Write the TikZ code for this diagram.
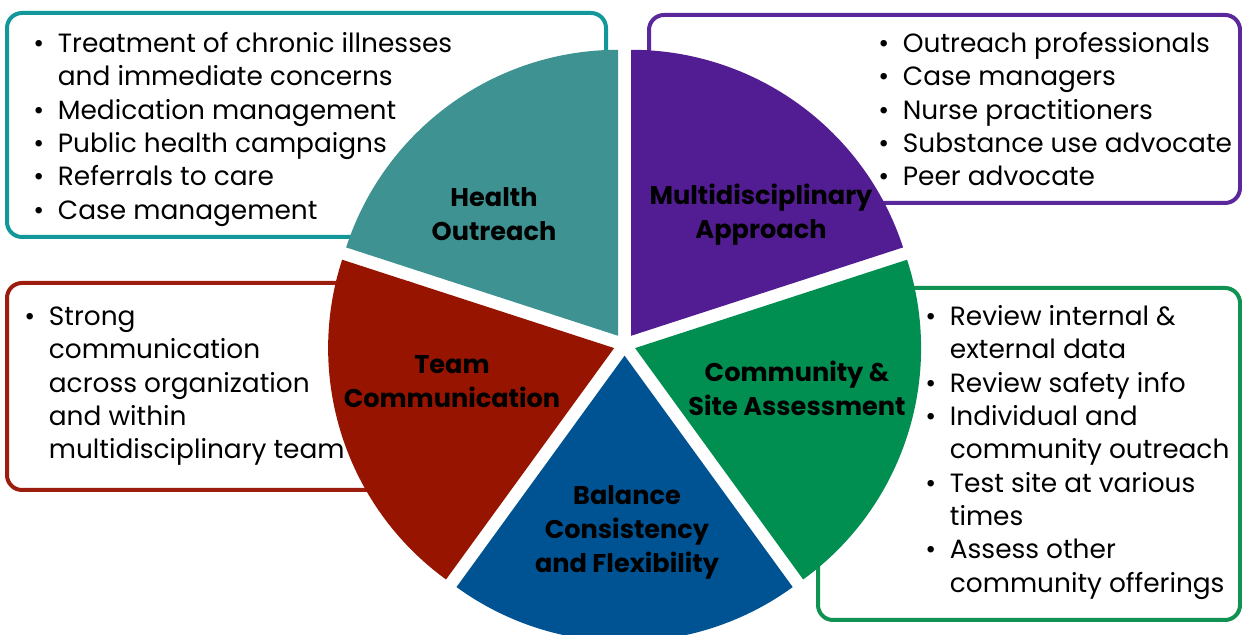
\documentclass[tikz,border=0pt]{standalone}
\usepackage{fontspec}
\setmainfont{Poppins}
\usetikzlibrary{calc}
\usepackage{xcolor}

\definecolor{healthfill}{RGB}{62,146,146}
\definecolor{healthline}{RGB}{18,152,154}
\definecolor{multifill}{RGB}{82,28,146}
\definecolor{multiline}{RGB}{90,40,155}
\definecolor{commfill}{RGB}{0,143,80}
\definecolor{commline}{RGB}{16,146,82}
\definecolor{teamfill}{RGB}{150,20,0}
\definecolor{teamline}{RGB}{156,28,14}
\definecolor{balancefill}{RGB}{0,83,147}

\begin{document}
\begin{tikzpicture}[x=0.5pt, y=0.5pt,
                box/.style = {line width=2pt, rounded corners=7.5pt, fill=white},
                slicelabel/.style = {font=\fontsize{12.8}{17}\selectfont\bfseries, align=center, inner sep=0pt},
                items/.style = {font=\fontsize{13.2}{16.65}\selectfont, anchor=north west, inner sep=0pt}
                ]
                \useasboundingbox (0,0) rectangle (1242,635);
                \clip (0,0) rectangle (1242,635);

                % boxes behind the pie
                \draw[box, draw=healthline] (7,398) rectangle (606,622);
                \draw[box, draw=multiline] (649,432) rectangle (1240,620);
                \draw[box, draw=teamline] (7,145) rectangle (420,352);
                \draw[box, draw=commline] (818,15) rectangle (1240,347);

                % exploded pie
                \coordinate (c) at (624.6,290.3);
                \fill[healthfill] ($(c)+(126:11)$) -- ++(90:286) arc[start angle=90, end angle=162, radius=286] -- cycle;
                \fill[multifill] ($(c)+(54:11)$) -- ++(18:286) arc[start angle=18, end angle=90, radius=286] -- cycle;
                \fill[commfill] ($(c)+(-18:11)$) -- ++(-54:286) arc[start angle=-54, end angle=18, radius=286] -- cycle;
                \fill[balancefill] ($(c)+(-90:11)$) -- ++(-126:286) arc[start angle=-126, end angle=-54, radius=286] -- cycle;
                \fill[teamfill] ($(c)+(198:11)$) -- ++(162:286) arc[start angle=162, end angle=234, radius=286] -- cycle;

                \node[slicelabel] (health) at (494,421) {Health\\Outreach};
                \node[slicelabel] (multi) at (761,420) {Multidisciplinary\\Approach};
                \node[slicelabel] (team) at (452,253) {Team\\Communication};
                \node[slicelabel] (comm) at (797,247) {Community \&\\Site Assessment};
                \node[slicelabel] (balance) at (627,103) {Balance\\Consistency\\and Flexibility};

                % bullet lists
                \node[items] (healthlist) at (33,606) {\begin{tabular}{@{}p{12.25pt}@{}l@{}}
                    \textbullet & Treatment of chronic illnesses\\
                                & and immediate concerns\\
                    \textbullet & Medication management\\
                    \textbullet & Public health campaigns\\
                    \textbullet & Referrals to care\\
                    \textbullet & Case management
                \end{tabular}};
                \node[items] (multilist) at (878,606) {\begin{tabular}{@{}p{12.25pt}@{}l@{}}
                    \textbullet & Outreach professionals\\
                    \textbullet & Case managers\\
                    \textbullet & Nurse practitioners\\
                    \textbullet & Substance use advocate\\
                    \textbullet & Peer advocate
                \end{tabular}};
                \node[items] (teamlist) at (24,333) {\begin{tabular}{@{}p{12.25pt}@{}l@{}}
                    \textbullet & Strong\\
                                & communication\\
                                & across organization\\
                                & and within\\
                                & multidisciplinary team
                \end{tabular}};
                \node[items] (commlist) at (925,333) {\begin{tabular}{@{}p{12.25pt}@{}l@{}}
                    \textbullet & Review internal \&\\
                                & external data\\
                    \textbullet & Review safety info\\
                    \textbullet & Individual and\\
                                & community outreach\\
                    \textbullet & Test site at various\\
                                & times\\
                    \textbullet & Assess other\\
                                & community offerings
                \end{tabular}};
            \end{tikzpicture}
\end{document}
